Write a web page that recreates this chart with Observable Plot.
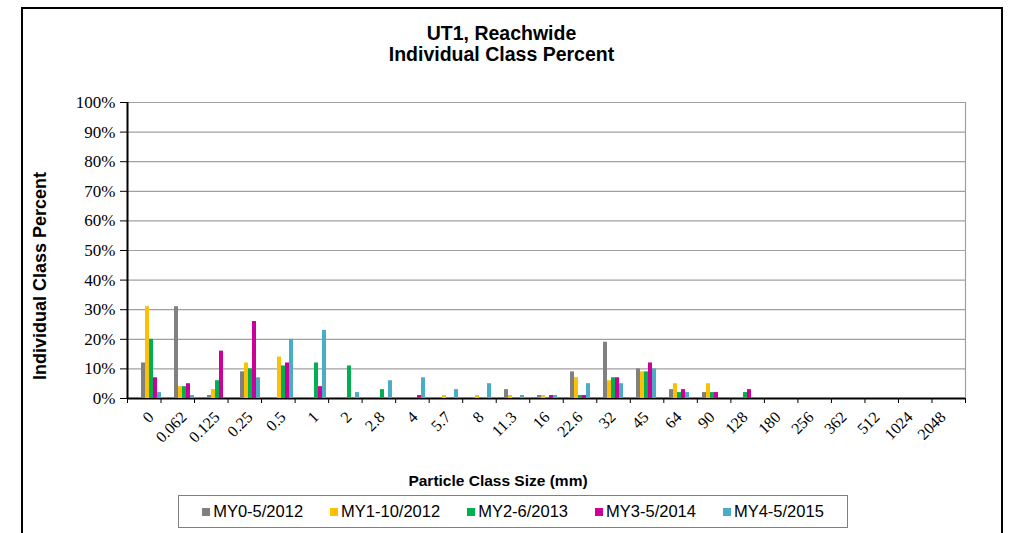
<!DOCTYPE html>
<html>
<head>
<meta charset="utf-8">
<script src="https://cdn.jsdelivr.net/npm/d3@7"></script>
<script src="https://cdn.jsdelivr.net/npm/@observablehq/plot@0.6"></script>
<style>
  html, body { margin: 0; padding: 0; background: #fff; overflow: hidden; }
  #wrap { position: relative; width: 1009px; height: 533px; overflow: hidden; background: #fff; }
  #border { position: absolute; left: 21px; top: 7px; width: 982px; height: 560px; border: 2px solid #000; box-sizing: border-box; }
  .layer { position: absolute; left: 0; top: 0; }
  #title { position: absolute; left: 0; width: 1003px; top: 23px; text-align: center; font: bold 19.5px "Liberation Sans", Arial, sans-serif; line-height: 21px; color: #000; }
  #ytitle { position: absolute; left: 40px; top: 276px; transform: translate(-50%, -50%) rotate(-90deg); white-space: nowrap; font: bold 18px "Liberation Sans", Arial, sans-serif; color: #000; }
  #xtitle { position: absolute; left: 0; width: 996px; top: 472px; text-align: center; font: bold 15.5px "Liberation Sans", Arial, sans-serif; color: #000; }
  #legend { position: absolute; left: 178px; top: 495px; width: 670px; height: 33px; border: 1px solid #808080; box-sizing: border-box; display: flex; align-items: center; justify-content: center; gap: 27px; font: 16.5px "Liberation Sans", Arial, sans-serif; color: #000; }
  .item { display: flex; align-items: center; }
  .sw { width: 8px; height: 8px; margin-right: 3px; }
</style>
</head>
<body>
<div id="wrap">
  <div id="border"></div>
  <div id="bg" class="layer"></div>
  <div id="fg" class="layer"></div>
  <div id="title">UT1, Reachwide<br>Individual Class Percent</div>
  <div id="ytitle">Individual Class Percent</div>
  <div id="xtitle">Particle Class Size (mm)</div>
  <div id="legend"></div>
</div>
<script>
// Particle class sizes (mm) — category tick labels
const sizeLabels = ["0","0.062","0.125","0.25","0.5","1","2","2.8","4","5.7","8","11.3","16","22.6","32","45","64","90","128","180","256","362","512","1024","2048"];
const seriesNames = ["MY0-5/2012","MY1-10/2012","MY2-6/2013","MY3-5/2014","MY4-5/2015"];
const seriesColors = ["#808080","#FFC000","#00B050","#CC0099","#4BACC6"];
// Individual class percent, one value per size class
const my0 = [12,31,1,9,0,0,0,0,0,0,0,3,1,9,19,10,3,2,0,0,0,0,0,0,0];
const my1 = [31,4,3,12,14,0,0,0,0,1,1,1,1,7,6,9,5,5,0,0,0,0,0,0,0];
const my2 = [20,4,6,10,11,12,11,3,0,0,0,0,0,1,7,9,2,2,2,0,0,0,0,0,0];
const my3 = [7,5,16,26,12,4,0,0,1,0,0,0,1,1,7,12,3,2,3,0,0,0,0,0,0];
const my4 = [2,1,0,7,20,23,2,6,7,3,5,1,1,5,5,10,2,0,0,0,0,0,0,0,0];
const yTicks = [0,10,20,30,40,50,60,70,80,90,100];

const allSeries = [my0, my1, my2, my3, my4];
const data = [];
sizeLabels.forEach((s, i) => {
  allSeries.forEach((arr, j) => {
    data.push({size: s, series: seriesNames[j], value: arr[i]});
  });
});

const W = 1009, H = 533;
const M = {top: 102, bottom: 135, left: 127, right: 44};

// Background: grid, axes, frame
const bg = Plot.plot({
  width: W, height: H,
  marginTop: M.top, marginBottom: M.bottom, marginLeft: M.left, marginRight: M.right,
  style: {background: "transparent", fontFamily: "'Liberation Serif', 'Times New Roman', serif", fontSize: "17px", color: "#000"},
  x: {type: "linear", domain: [0, sizeLabels.length], ticks: d3.range(sizeLabels.length + 1), tickFormat: () => "", tickSize: 5, label: null},
  y: {domain: [0, 100], ticks: yTicks, tickFormat: d => d + "%", tickSize: 7, tickPadding: 5, label: null},
  marks: [
    Plot.ruleY(yTicks.filter(d => d > 0), {stroke: "#a0a0a0", strokeWidth: 1.2}),
    Plot.ruleX([sizeLabels.length], {stroke: "#a0a0a0", strokeWidth: 1.2}),
    Plot.ruleX([0], {stroke: "#000", strokeWidth: 2}),
    Plot.ruleY([0], {stroke: "#000", strokeWidth: 2})
  ]
});
bg.querySelectorAll("g[aria-label='x-axis'] line, g[aria-label='x-axis tick'] line").forEach(l => l.setAttribute("stroke", "#808080"));
document.getElementById("bg").appendChild(bg);

// Foreground: grouped bars via fx facets
const fg = Plot.plot({
  width: W, height: H,
  marginTop: M.top, marginBottom: M.bottom, marginLeft: M.left, marginRight: M.right,
  style: {background: "transparent", fontFamily: "'Liberation Serif', 'Times New Roman', serif", fontSize: "16px", color: "#000"},
  facet: {data: data, x: "size"},
  fx: {domain: sizeLabels, padding: 0, axis: "bottom", tickRotate: -45, tickSize: 0, tickPadding: 16, label: null},
  x: {domain: seriesNames, paddingInner: 0, paddingOuter: 1, axis: null},
  y: {domain: [0, 100], axis: null},
  color: {domain: seriesNames, range: seriesColors},
  marks: [
    Plot.barY(data, {x: "series", y: "value", fill: "series", inset: 0})
  ]
});
document.getElementById("fg").appendChild(fg);

// Legend
const legend = document.getElementById("legend");
seriesNames.forEach((name, i) => {
  const it = document.createElement("div");
  it.className = "item";
  const sw = document.createElement("span");
  sw.className = "sw";
  sw.style.background = seriesColors[i];
  const tx = document.createElement("span");
  tx.textContent = name;
  it.appendChild(sw); it.appendChild(tx);
  legend.appendChild(it);
});
</script>
</body>
</html>
